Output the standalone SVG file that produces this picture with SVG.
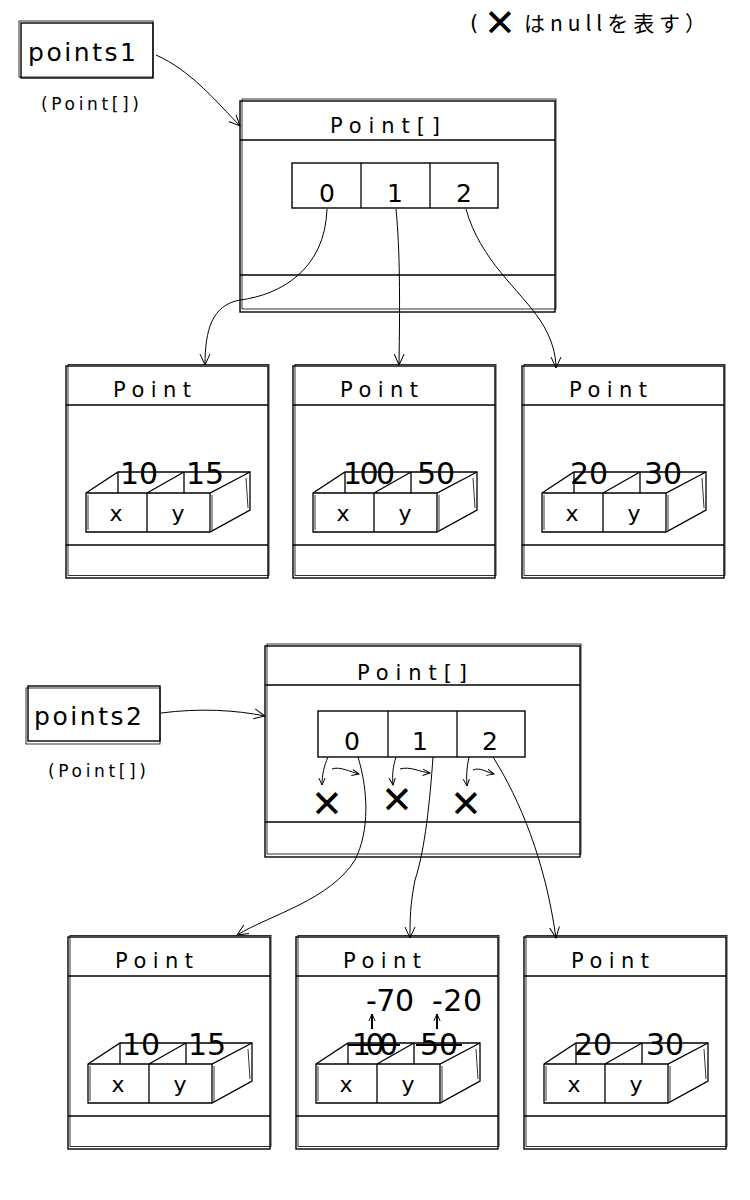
<svg xmlns="http://www.w3.org/2000/svg" xmlns:xlink="http://www.w3.org/1999/xlink" width="750" height="1200" viewBox="0 0 750 1200">
<style>
.bg{fill:#fff}
.box{fill:none;stroke:#000;stroke-width:1.4}
.box2{fill:none;stroke:#000;stroke-width:0.8}
.ln{fill:none;stroke:#000;stroke-width:1.3}
.con{fill:none;stroke:#000;stroke-width:1}
.t{font-family:"DejaVu Sans","Liberation Sans",sans-serif;fill:#000}
.title{font-size:21px}
.var{font-size:25px}
.type{font-size:17px}
.idx{font-size:25px}
.xy{font-size:22px}
.val{font-size:30px}
.nul{font-family:"DejaVu Sans",sans-serif;font-size:38px;font-weight:bold;fill:#000}
.jp{font-family:"Noto Sans CJK JP","DejaVu Sans",sans-serif;font-size:21px;fill:#000}
</style>
<defs>
<marker id="ah" viewBox="0 0 12 12" refX="11" refY="6" markerWidth="12" markerHeight="12" markerUnits="userSpaceOnUse" orient="auto">
<path d="M0,1 L11,6 L0,11" fill="none" stroke="#000" stroke-width="1"/>
</marker>
<marker id="ahs" viewBox="0 0 10 10" refX="9" refY="5" markerWidth="8" markerHeight="8" markerUnits="userSpaceOnUse" orient="auto">
<path d="M0,1 L9,5 L0,9" fill="none" stroke="#000" stroke-width="1.2"/>
</marker>
<g id="cube">
<path class="ln" d="M20,127 L52,106 L184,106 L184,144 L144,166 L20,166 Z"/>
<path class="ln" d="M20,127 L144,127 L184,106 M81,127 L81,166 M144,127 L144,166 M81,127 L118,106 M52,106 L52,127 M118,106 L118,127"/>
<path class="box2" d="M22,129 L22,164 M146,129 L146,164 M180,112 L182,142"/>
</g>
<g id="pbox">
<rect class="bg" x="0" y="0" width="202" height="212"/>
<rect class="box" x="0" y="0" width="202" height="212"/>
<rect class="box2" x="2" y="-1.5" width="201" height="211"/>
<line class="ln" x1="0" y1="39" x2="202" y2="39"/>
<line class="ln" x1="0" y1="179" x2="202" y2="179"/>
<text class="t title" x="47" y="31" textLength="78">Point</text>
<use xlink:href="#cube"/>
<text class="t xy" x="50" y="155" text-anchor="middle">x</text>
<text class="t xy" x="112" y="155" text-anchor="middle">y</text>
</g>
</defs>
<rect width="750" height="1200" fill="#fff"/>

<g id="legend">
<text class="t" x="470" y="30" style="font-size:21px">(</text>
<text class="nul" x="500" y="36" text-anchor="middle" style="font-size:38px">✕</text>
<text class="jp" x="524" y="31" textLength="182">はnullを表す）</text>
</g>

<g id="points1">
<rect class="box" x="21" y="23" width="132" height="55"/>
<rect class="box2" x="19" y="21" width="134" height="56"/>
<text class="t var" x="28" y="61" textLength="108">points1</text>
<text class="t type" x="41" y="110" textLength="98">(Point[])</text>
</g>

<g id="array1">
<rect class="box" x="240" y="101" width="315" height="211"/>
<rect class="box2" x="242" y="99" width="314" height="210"/>
<line class="ln" x1="240" y1="140" x2="555" y2="140"/>
<line class="ln" x1="240" y1="275" x2="555" y2="275"/>
<text class="t title" x="330" y="133" textLength="110">Point[]</text>
<rect class="box" x="292" y="163" width="206" height="45"/>
<line class="ln" x1="361" y1="163" x2="361" y2="208"/>
<line class="ln" x1="430" y1="163" x2="430" y2="208"/>
<text class="t idx" x="327" y="202" text-anchor="middle">0</text>
<text class="t idx" x="395" y="202" text-anchor="middle">1</text>
<text class="t idx" x="464" y="202" text-anchor="middle">2</text>
</g>

<g id="p1a" transform="translate(66,366)">
<use xlink:href="#pbox"/>
<text class="t val" x="54" y="118">10</text>
<text class="t val" x="120" y="118">15</text>
</g>
<g id="p1b" transform="translate(293,366)">
<use xlink:href="#pbox"/>
<text class="t val" x="50" y="118" textLength="52">100</text>
<text class="t val" x="124" y="118">50</text>
</g>
<g id="p1c" transform="translate(522,366)">
<use xlink:href="#pbox"/>
<text class="t val" x="48" y="118">20</text>
<text class="t val" x="122" y="118">30</text>
</g>

<g id="points2">
<rect class="box" x="28" y="686" width="132" height="55"/>
<rect class="box2" x="26" y="688" width="134" height="56"/>
<text class="t var" x="34" y="725" textLength="108">points2</text>
<text class="t type" x="48" y="777" textLength="98">(Point[])</text>
</g>

<g id="array2">
<rect class="box" x="265" y="646" width="315" height="211"/>
<rect class="box2" x="267" y="644" width="314" height="210"/>
<line class="ln" x1="265" y1="685" x2="580" y2="685"/>
<line class="ln" x1="265" y1="822" x2="580" y2="822"/>
<text class="t title" x="357" y="680" textLength="110">Point[]</text>
<rect class="box" x="318" y="711" width="207" height="46"/>
<line class="ln" x1="388" y1="711" x2="388" y2="757"/>
<line class="ln" x1="457" y1="711" x2="457" y2="757"/>
<text class="t idx" x="352" y="750" text-anchor="middle">0</text>
<text class="t idx" x="420" y="750" text-anchor="middle">1</text>
<text class="t idx" x="490" y="750" text-anchor="middle">2</text>
<text class="nul" x="327" y="817" text-anchor="middle">✕</text>
<text class="nul" x="397" y="813" text-anchor="middle">✕</text>
<text class="nul" x="466" y="817" text-anchor="middle">✕</text>
</g>

<g id="p2a" transform="translate(68,937)">
<use xlink:href="#pbox"/>
<text class="t val" x="54" y="118">10</text>
<text class="t val" x="120" y="118">15</text>
</g>
<g id="p2b" transform="translate(296,937)">
<use xlink:href="#pbox"/>
<text class="t val" x="56" y="118" textLength="46">100</text>
<text class="t val" x="124" y="118">50</text>
<line x1="52" y1="108" x2="104" y2="108" stroke="#000" stroke-width="2.2"/>
<line x1="120" y1="108" x2="166" y2="108" stroke="#000" stroke-width="2.2"/>
<text class="t val" x="70" y="74" textLength="48">-70</text>
<text class="t val" x="136" y="74" textLength="50">-20</text>
<line x1="76" y1="92" x2="76" y2="77" stroke="#000" stroke-width="2" marker-end="url(#ahs)"/>
<line x1="141" y1="92" x2="141" y2="77" stroke="#000" stroke-width="2" marker-end="url(#ahs)"/>
</g>
<g id="p2c" transform="translate(524,937)">
<use xlink:href="#pbox"/>
<text class="t val" x="50" y="118">20</text>
<text class="t val" x="122" y="118">30</text>
</g>

<g id="connectors">
<path class="con" d="M156,55 C190,70 215,100 240,126" marker-end="url(#ah)"/>
<path class="con" d="M327,209 C325,270 280,295 240,300 C212,305 205,330 205,365" marker-end="url(#ah)"/>
<path class="con" d="M396,209 C400,250 400,300 399,365" marker-end="url(#ah)"/>
<path class="con" d="M466,209 C480,260 520,290 540,320 C552,338 556,355 556,368" marker-end="url(#ah)"/>
<path class="con" d="M161,713 C200,708 235,710 265,716" marker-end="url(#ah)"/>
<path class="con" d="M358,757 C368,790 370,830 355,860 C330,900 270,915 237,935" marker-end="url(#ah)"/>
<path class="con" d="M433,757 C430,800 425,850 415,880 C410,905 410,920 410,938" marker-end="url(#ah)"/>
<path class="con" d="M493,757 C520,800 545,860 556,938" marker-end="url(#ah)"/>
<path class="con" d="M328,757 C324,766 322,775 322,785" marker-end="url(#ahs)"/>
<path class="con" d="M332,769 C340,766 350,772 359,774" marker-end="url(#ahs)"/>
<path class="con" d="M396,757 C393,766 392,775 393,785" marker-end="url(#ahs)"/>
<path class="con" d="M400,769 C410,766 420,772 430,773" marker-end="url(#ahs)"/>
<path class="con" d="M469,757 C467,766 466,775 467,786" marker-end="url(#ahs)"/>
<path class="con" d="M473,770 C480,767 486,772 494,774" marker-end="url(#ahs)"/>
</g>
</svg>
